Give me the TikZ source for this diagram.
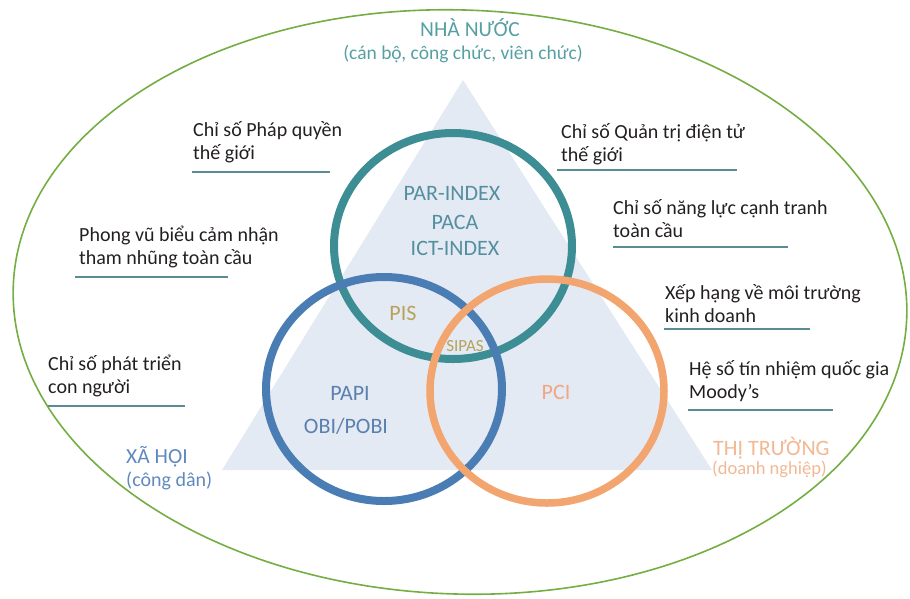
\documentclass[tikz,border=0pt]{standalone}
\usepackage{fontspec}
\setmainfont{Carlito}

\definecolor{ellgreen}{HTML}{74AE43}
\definecolor{trifill}{HTML}{E4EAF3}
\definecolor{ringteal}{HTML}{3D8E94}
\definecolor{ringblue}{HTML}{4A7DB3}
\definecolor{ringorange}{HTML}{F3A56F}
\definecolor{inkdark}{HTML}{231F20}
\definecolor{rulecol}{HTML}{5A8C93}
\definecolor{statetxt}{HTML}{56A0A4}
\definecolor{coretxt}{HTML}{548FA0}
\definecolor{goldtxt}{HTML}{B7A25A}
\definecolor{papitxt}{HTML}{5A80B0}
\definecolor{pcitxt}{HTML}{F0A683}
\definecolor{socialtxt}{HTML}{6089BF}
\definecolor{markettxt}{HTML}{F1B893}

\begin{document}
\begin{tikzpicture}[x=1pt, y=-1pt,
  ring/.style={line width=8pt},
  idx/.style={anchor=base west, align=left, inner sep=0pt, text=inkdark,
    font=\fontsize{20}{22.5}\selectfont},
  uline/.style={draw=rulecol, line width=1.3pt},
  core/.style={anchor=base, inner sep=0pt, font=\fontsize{22}{24}\selectfont},
  actor/.style={anchor=base west, inner sep=0pt}]

  \useasboundingbox (0,0) rectangle (910,598);

  % Outer green boundary
  \draw[ellgreen, line width=1.6pt, rotate around={-2:(460,302)}]
    (460,302) ellipse [x radius=447, y radius=292];

  % Background triangle
  \fill[trifill] (222,470) -- (463,80) -- (712,470) -- cycle;

  % Three overlapping rings
  \draw[ring, ringteal] (453,246) ellipse [x radius=119, y radius=113];
  \draw[ring, ringblue] (384,389) ellipse [x radius=118, y radius=112];
  \draw[ring, ringorange, line width=7.5pt] (547,391) ellipse [x radius=117, y radius=112];

  % Actors at the corners
  \node[actor, anchor=base, text=statetxt, font=\fontsize{21.5}{24}\selectfont]
    (state) at (470,36) {NHÀ NƯỚC};
  \node[actor, anchor=base, text=statetxt, font=\fontsize{19.5}{22}\selectfont]
    (statesub) at (463,59) {(cán bộ, công chức, viên chức)};
  \node[actor, text=socialtxt, font=\fontsize{21.5}{24}\selectfont]
    (society) at (126,463) {XÃ HỘI};
  \node[actor, text=socialtxt, font=\fontsize{20}{22}\selectfont]
    (societysub) at (126,486) {(công dân)};
  \node[actor, text=markettxt, font=\fontsize{22}{24}\selectfont]
    (market) at (713,455) {THỊ TRƯỜNG};
  \node[actor, text=markettxt, font=\fontsize{18.5}{20}\selectfont]
    (marketsub) at (712,474) {(doanh nghiệp)};

  % Indices inside the rings
  \node[core, text=coretxt] (par) at (452,200) {PAR-INDEX};
  \node[core, text=coretxt] (paca) at (455,229) {PACA};
  \node[core, text=coretxt] (ict) at (455,255) {ICT-INDEX};
  \node[core, text=goldtxt] (pis) at (403,320) {PIS};
  \node[core, text=goldtxt, font=\fontsize{17}{19}\selectfont] (sipas) at (465,351) {SIPAS};
  \node[core, text=papitxt] (papi) at (350,400) {PAPI};
  \node[core, text=papitxt] (obi) at (346,433) {OBI/POBI};
  \node[core, text=pcitxt] (pci) at (556,399) {PCI};

  % International indices, left side (base = last line)
  \node[idx] (wjp) at (193,159) {Chỉ số Pháp quyền\\thế giới};
  \draw[uline] (192,172) -- (330,172);
  \node[idx] (cpi) at (79,264) {Phong vũ biểu cảm nhận\\tham nhũng toàn cầu};
  \draw[uline] (75,277) -- (228,277);
  \node[idx] (hdi) at (48,393) {Chỉ số phát triển\\con người};
  \draw[uline] (48,406) -- (185,406);

  % International indices, right side
  \node[idx] (egdi) at (561,161) {Chỉ số Quản trị điện tử\\thế giới};
  \draw[uline] (557,170) -- (737,170);
  \node[idx] (gci) at (613,237) {Chỉ số năng lực cạnh tranh\\toàn cầu};
  \draw[uline] (613,247) -- (788,247);
  \node[idx] (dbr) at (665,322) {Xếp hạng về môi trường\\kinh doanh};
  \draw[uline] (664,329) -- (810,329);
  \node[idx] (moody) at (689,398) {Hệ số tín nhiệm quốc gia\\Moody’s};
  \draw[uline] (688,410) -- (833,410);

\end{tikzpicture}
\end{document}
